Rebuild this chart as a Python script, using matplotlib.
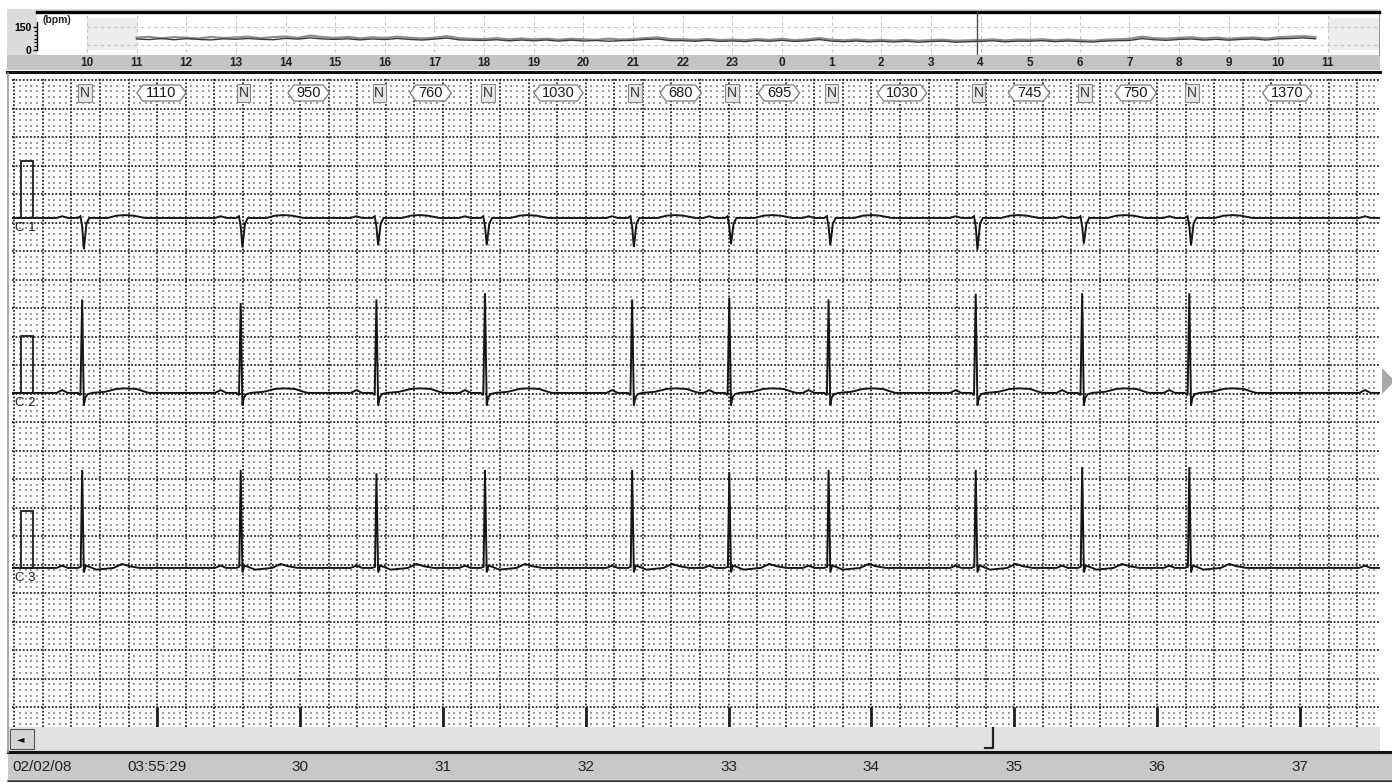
import numpy as np
import matplotlib
matplotlib.use("Agg")
import matplotlib.pyplot as plt
from matplotlib.patches import Rectangle, Polygon

plt.rcParams['font.family'] = ['Liberation Sans', 'DejaVu Sans']

# ---------------- data ----------------
rr_ms = [1110, 950, 760, 1030, 680, 695, 1030, 745, 750, 1370]
first_beat_s = 28.475
beat_label = 'N'
c1_depth = [-0.55, -0.52, -0.48, -0.48, -0.51, -0.46, -0.48, -0.56, -0.45, -0.48, -0.50]
c2_r = [1.64, 1.58, 1.64, 1.75, 1.64, 1.67, 1.64, 1.74, 1.75, 1.75, 1.70]
c3_r = [1.72, 1.72, 1.66, 1.72, 1.72, 1.68, 1.72, 1.72, 1.77, 1.77, 1.70]
channel_names = ['C 1', 'C 2', 'C 3']
channel_baseline_mv = [-2.42, -5.49, -8.56]

# beat templates: offsets (s) from R and values (mV); peak index takes per-beat amplitude
c1_dt = [-0.18, -0.14, -0.10, -0.03, -0.012, 0.0, 0.012, 0.03, 0.05, 0.18, 0.24, 0.30, 0.36, 0.44]
c1_v = [0.0, 0.03, 0.0, 0.0, 0.03, -0.15, None, -0.10, 0.0, 0.0, 0.04, 0.05, 0.04, 0.0]
c2_dt = [-0.18, -0.14, -0.10, -0.03, -0.012, 0.0, 0.012, 0.022, 0.04, 0.07, 0.16, 0.24, 0.30, 0.38, 0.44, 0.47]
c2_v = [0.0, 0.05, 0.0, 0.0, -0.04, None, -0.22, -0.08, -0.02, 0.0, 0.02, 0.07, 0.08, 0.07, 0.02, 0.0]
c3_dt = [-0.18, -0.14, -0.10, -0.03, -0.01, 0.0, 0.012, 0.025, 0.05, 0.10, 0.22, 0.28, 0.33, 0.40]
c3_v = [0.0, 0.04, 0.0, 0.0, 0.02, None, -0.08, 0.04, 0.02, -0.03, 0.0, 0.07, 0.03, 0.0]

sec_ticks = [29, 30, 31, 32, 33, 34, 35, 36, 37]
sec_labels = ['03:55:29', '30', '31', '32', '33', '34', '35', '36', '37']
date_label = '02/02/08'

hour_ticks = list(range(10, 36))
hour_labels = [str(h % 24) for h in hour_ticks]
cursor_hour = 27.925
trend_start_hour = 11.0
trend_step_hour = 0.25
hr_hi = [80, 86, 76, 84, 80, 75, 85, 78, 82, 87, 77, 84, 88, 79, 94, 84,
         79, 85, 76, 83, 78, 87, 80, 75, 80, 90, 77, 73, 71, 77, 69, 75,
         69, 74, 67, 73, 70, 66, 74, 68, 71, 78, 82, 71, 70, 66, 72, 65,
         68, 64, 71, 66, 73, 64, 69, 78, 67, 63, 68, 62, 66, 61, 66, 60,
         64, 67, 60, 63, 65, 69, 62, 68, 66, 70, 63, 68, 64, 60, 67, 70,
         73, 87, 77, 74, 79, 83, 75, 81, 73, 79, 82, 75, 83, 87, 90, 85]
hr_lo = [72, 68, 75, 67, 74, 69, 66, 73, 70, 75, 70, 67, 76, 71, 79, 72,
         69, 73, 66, 72, 68, 75, 69, 65, 71, 78, 66, 64, 62, 67, 60, 65,
         60, 65, 58, 64, 59, 62, 57, 61, 63, 69, 72, 61, 61, 57, 63, 56,
         59, 55, 62, 57, 63, 56, 60, 68, 58, 54, 59, 53, 57, 52, 57, 51,
         55, 58, 51, 54, 56, 60, 53, 58, 57, 61, 54, 59, 55, 52, 58, 61,
         62, 74, 67, 63, 69, 72, 65, 70, 64, 69, 72, 65, 73, 75, 79, 73]

# ---------------- layout helpers ----------------
W, H = 1392, 782
fig = plt.figure(figsize=(W / 100, H / 100), dpi=100)
fig.patch.set_facecolor('white')


def px_axes(x0, y0, x1, y1, **kw):
    return fig.add_axes([x0 / W, 1 - y1 / H, (x1 - x0) / W, (y1 - y0) / H], **kw)


PX_PER_S = 142.86
PX_PER_MV = 57.0
X_SEC29 = 157.14


def t_of(x):
    return 29 + (x - X_SEC29) / PX_PER_S


# background / foreground overlays in pixel space
bg = px_axes(0, 0, W, H, zorder=-10)
bg.set_xlim(0, W); bg.set_ylim(H, 0); bg.axis('off')
fg = px_axes(0, 0, W, H, zorder=20)
fg.set_xlim(0, W); fg.set_ylim(H, 0); fg.axis('off')
fg.patch.set_alpha(0)

bg.add_patch(Rectangle((7, 9), 1373, 48, fc='#dcdcdc', ec='none'))
bg.add_patch(Rectangle((7, 55), 1373, 15, fc='#c4c4c4', ec='none'))
bg.add_patch(Rectangle((8, 754), 1384, 26, fc='#c8c8c8', ec='none'))

# ---------------- trend strip ----------------
axt = px_axes(37, 12, 1379, 55, zorder=1)
h_left = 10 + (37 - 87) / 49.64
h_right = 10 + (1379 - 87) / 49.64
bpm_per_px = 150 / 23.0
axt.set_xlim(h_left, h_right)
axt.set_ylim(-5 * bpm_per_px, 150 + 15 * bpm_per_px)
axt.set_facecolor('white')
for h in hour_ticks:
    axt.axvline(h, ymin=0.07, ymax=0.93, color='#c4c4c4', lw=0.8, ls=(0, (3, 3)), zorder=1)
axt.axvspan(10.0, trend_start_hour, ymin=0.12, ymax=0.86, color='#ececec', zorder=0.5, lw=0)
axt.axvspan(35.0, h_right, ymin=0.12, ymax=0.86, color='#ececec', zorder=0.5, lw=0)
for yv in (150, 35):
    axt.axhline(yv, xmin=(10 - h_left) / (h_right - h_left), color='#c4c4c4', lw=0.8,
                ls=(0, (3, 3)), zorder=1)
trend_hours = trend_start_hour + trend_step_hour * np.arange(len(hr_hi))
axt.plot(trend_hours, hr_hi, color='#8e8e8e', lw=1.6, zorder=3)
axt.plot(trend_hours, hr_lo, color='#3c3c3c', lw=1.0, zorder=4)
axt.axvline(cursor_hour, color='#4a4a4a', lw=1.0, zorder=5)
axt.set_xticks(hour_ticks, hour_labels)
axt.tick_params(axis='x', length=0, pad=1.5, labelsize=8.5, labelcolor='#222')
for lab in axt.get_xticklabels():
    lab.set_fontweight('bold')
axt.set_yticks([0, 150], ['0', '150'])
axt.set_yticks([25, 50, 75, 100, 125], minor=True)
axt.tick_params(axis='y', length=3, width=1, pad=1, labelsize=7.5, direction='out')
axt.tick_params(axis='y', which='minor', length=2, width=0.8)
for lab in axt.get_yticklabels():
    lab.set_fontweight('bold')
axt.spines['top'].set_linewidth(2.4)
axt.spines['left'].set_linewidth(1.0)
axt.spines['left'].set_bounds(0, 185)
axt.spines['right'].set_color('#9a9a9a')
axt.spines['bottom'].set_visible(False)
axt.text(0.004, 0.82, '(bpm)', transform=axt.transAxes, fontsize=7.5, fontweight='bold',
         color='#222', va='center', ha='left')

# ---------------- main ECG grid ----------------
ax = px_axes(12, 78, 1380, 727, zorder=2)
t_left, t_right = t_of(12), t_of(1380)
y_bot, y_top = -(727 - 80) / PX_PER_MV, (80 - 78) / PX_PER_MV
ax.set_xlim(t_left, t_right)
ax.set_ylim(y_bot, y_top)
ax.set_xticks([]); ax.set_yticks([])
for s in ax.spines.values():
    s.set_visible(False)
ax.set_facecolor('white')

major_t = np.round(np.arange(28.0, t_right, 0.2), 3)
major_y = -np.arange(0, 11.01, 0.5)
minor_t = np.round(np.arange(28.0 - 0.2, t_right, 0.04), 3)
minor_t = minor_t[(minor_t > t_left) & (np.abs(minor_t / 0.2 - np.round(minor_t / 0.2)) > 0.01)]
minor_y = -np.round(np.arange(0, -y_bot, 0.1), 3)
minor_y = minor_y[np.abs(minor_y / 0.5 - np.round(minor_y / 0.5)) > 0.01]
MX, MY = np.meshgrid(minor_t, minor_y)
ax.scatter(MX.ravel(), MY.ravel(), s=2.4, marker='s', c='#9c9c9c', linewidths=0, zorder=1)
for tv in major_t:
    ax.axvline(tv, color='#2a2a2a', lw=1.3, ls=(0, (1, 1)), zorder=2)
for yv in major_y:
    ax.axhline(yv, color='#2a2a2a', lw=1.3, ls=(0, (1, 1)), zorder=2)
ax.vlines(sec_ticks, y_bot, -11.0, color='#202020', lw=2.0, zorder=3)

beats = np.concatenate([[first_beat_s], first_beat_s + np.cumsum(rr_ms) / 1000.0])


def build_trace(dts, vals, amps):
    ts, vs = [t_left], [0.0]
    for b, a in zip(beats, amps):
        for dt, v in zip(dts, vals):
            ts.append(b + dt)
            vs.append(a if v is None else v)
    ts.append(t_right + 0.5); vs.append(0.0)
    return np.array(ts), np.array(vs)


templates = [(c1_dt, c1_v, c1_depth), (c2_dt, c2_v, c2_r), (c3_dt, c3_v, c3_r)]
for (dts, vals, amps), base, name in zip(templates, channel_baseline_mv, channel_names):
    ts, vs = build_trace(dts, vals, amps)
    ax.plot(ts, vs + base, color='#161616', lw=1.4, zorder=6, solid_joinstyle='miter')
    ax.add_patch(Rectangle((t_of(21), base), t_of(33) - t_of(21), 1.0, fill=False,
                           ec='#1c1c1c', lw=1.3, zorder=6))
    ax.text(t_of(15), base - 0.17, name, fontsize=9.5, color='#222', va='center', ha='left',
            zorder=7)

# annotation row
ann_y = -(93 - 80) / PX_PER_MV
for b in beats:
    if b < t_right - 0.05:
        ax.text(b + 0.02, ann_y, beat_label, fontsize=10, color='#333', ha='center',
                va='center', zorder=8,
                bbox=dict(boxstyle='square,pad=0.12', fc='#e6e6e6', ec='#8a8a8a', lw=0.8))
for i, rr in enumerate(rr_ms):
    mid = beats[i] + rr / 2000.0
    txt = str(rr)
    hw = (3.9 * len(txt) + 3) / PX_PER_S
    a = 6 / PX_PER_S
    hh = 8 / PX_PER_MV
    poly = Polygon([(mid - hw - a, ann_y), (mid - hw, ann_y + hh), (mid + hw, ann_y + hh),
                    (mid + hw + a, ann_y), (mid + hw, ann_y - hh), (mid - hw, ann_y - hh)],
                   closed=True, fc='white', ec='#7a7a7a', lw=0.9, zorder=7)
    ax.add_patch(poly)
    ax.text(mid, ann_y, txt, fontsize=10.5, color='#1a1a1a', ha='center', va='center', zorder=8)

# ---------------- scrollbar ----------------
bg.add_patch(Rectangle((8, 727), 1372, 24, fc='#e2e2e2', ec='none'))
fg.add_patch(Rectangle((10, 729), 24, 20, fc='#d4d4d4', ec='#555', lw=0.8))
fg.text(21, 739, '\u25c4', fontsize=7, ha='center', va='center', color='#111',
        family='DejaVu Sans')
fg.plot([993, 993, 985], [728, 748, 748], color='#222', lw=1.6)

# ---------------- bottom time labels ----------------
axb = px_axes(8, 754, 1392, 780, zorder=1)
axb.set_xlim(t_of(8), t_of(1392))
axb.set_ylim(0, 1)
axb.axis('off')
for tv, lab in zip(sec_ticks, sec_labels):
    axb.text(tv, 0.5, lab, fontsize=11, color='#222', ha='center', va='center')
axb.text(t_of(12), 0.5, date_label, fontsize=11, color='#222', ha='left', va='center')

# ---------------- frame lines ----------------
fg.plot([7, 1380], [72, 72], color='#111', lw=2.2)
fg.plot([8, 1392], [752, 752], color='#111', lw=2.2)
fg.plot([8, 1392], [781, 781], color='#333', lw=1.8)
fg.plot([8, 8], [73, 752], color='#9a9a9a', lw=1.2)
fg.add_patch(Polygon([(1382, 368), (1395, 381), (1382, 394)], closed=True, fc='#a8a8a8',
                     ec='none'))

fig.savefig('out.png', dpi=100)
